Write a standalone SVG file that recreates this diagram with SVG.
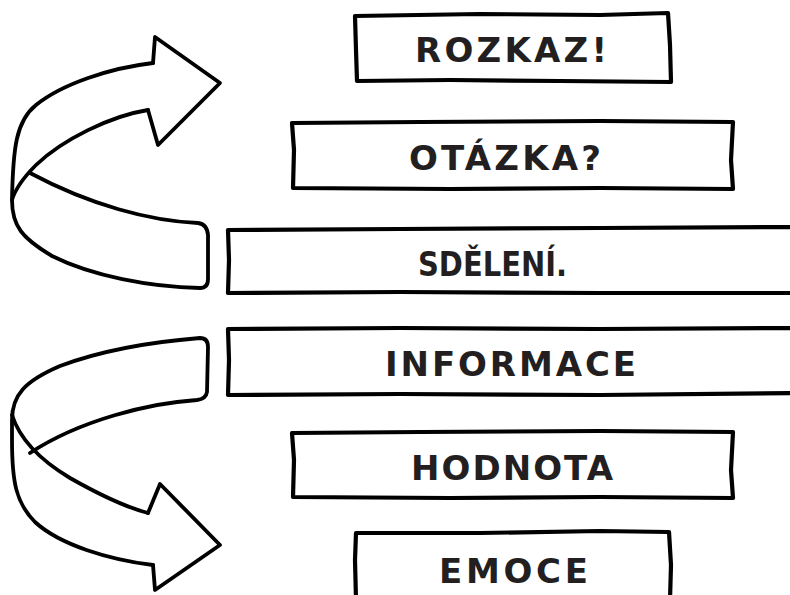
<svg xmlns="http://www.w3.org/2000/svg" width="790" height="595" viewBox="0 0 790 595">
  <style>
    .ink { fill: none; stroke: #000; stroke-width: 3.8; stroke-linecap: round; stroke-linejoin: round; }
    .box { fill: #fff; stroke: #000; stroke-width: 4.2; stroke-linecap: round; stroke-linejoin: round; }
    .lbl { font-family: "DejaVu Sans", "Liberation Sans", sans-serif; font-weight: bold; font-size: 34px; fill: #231f20; }
  </style>
  <rect width="790" height="595" fill="#fff"/>

  <!-- curved ribbon arrows -->
  <g id="connectors">
    <g id="arrow-up">
      <path class="ink" d="M153,63 C110,68 62,84 36,105 C16,121 13,148 12,200 C12,226 22,238 52,256 C92,276 150,287 200,288 Q208,288 208,279 L208,235 Q207,224 198,223 C150,221 90,205 30,173"/>
      <path class="ink" d="M148,110 C110,116 62,140 36,165 C22,179 15,190 12,200"/>
      <path class="ink" d="M153,63 L155,37 L220,83 L158,145 L148,110"/>
    </g>
    <g id="arrow-down">
      <path class="ink" d="M153,565 C110,560 60,545 35,522 C16,503 12,482 12,440 L12,420 C12,395 25,381 60,366 C100,351 150,342 200,338 Q208,338 208,347 L207,392 Q206,399 197,400 C150,403 80,420 30,453"/>
      <path class="ink" d="M12,415 C20,440 40,460 70,478 C100,495 125,507 148,513"/>
      <path class="ink" d="M148,513 L160,484 L220,545 L155,590 L153,565"/>
    </g>
  </g>

  <g id="rozkaz">
    <path class="box" d="M355,16 L480,14 L600,15 L668,13 L670,45 L671,82 L560,81 L450,80 L357,81 L356,50 Z"/>
    <text class="lbl" x="415" y="62" textLength="192" lengthAdjust="spacing">ROZKAZ!</text>
  </g>
  <g id="otazka">
    <path class="box" d="M292,123 L420,122 L600,121 L733,122 L731,160 L733,189 L600,188 L450,189 L293,188 L294,150 Z"/>
    <text class="lbl" x="409" y="170" textLength="192" lengthAdjust="spacing">OTÁZKA?</text>
  </g>
  <g id="sdeleni">
    <path class="box" d="M800,227 L600,228 L400,229 L228,230 L229,260 L228,293 L400,292 L600,293 L800,293"/>
    <text class="lbl" x="418" y="276" textLength="149" lengthAdjust="spacingAndGlyphs">SDĚLENÍ.</text>
  </g>
  <g id="informace">
    <path class="box" d="M800,328 L600,329 L400,328 L228,329 L229,360 L228,395 L400,394 L600,395 L800,393"/>
    <text class="lbl" x="385" y="376" textLength="251" lengthAdjust="spacing">INFORMACE</text>
  </g>
  <g id="hodnota">
    <path class="box" d="M292,433 L420,432 L600,431 L733,432 L731,470 L733,498 L600,497 L450,498 L293,497 L294,460 Z"/>
    <text class="lbl" x="411" y="480" textLength="202" lengthAdjust="spacing">HODNOTA</text>
  </g>
  <g id="emoce">
    <path class="box" d="M356,600 L355,560 L356,533 L480,533 L600,531 L669,532 L671,565 L670,600"/>
    <text class="lbl" x="439" y="583" textLength="149" lengthAdjust="spacing">EMOCE</text>
  </g>
</svg>
